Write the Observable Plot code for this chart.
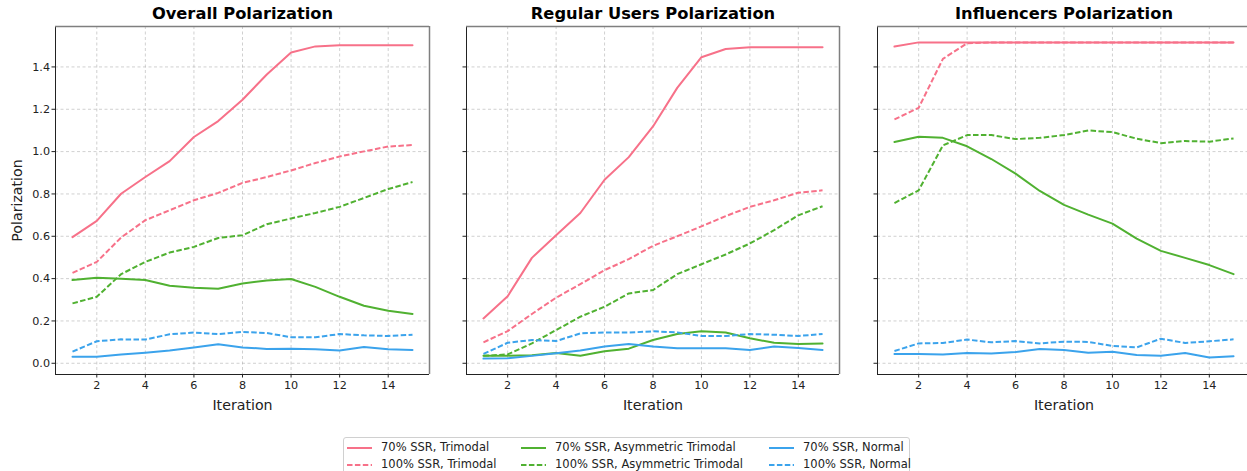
<!DOCTYPE html>
<html><head><meta charset="utf-8">
<script src="https://cdn.jsdelivr.net/npm/d3@7"></script>
<script src="https://cdn.jsdelivr.net/npm/@observablehq/plot@0.6"></script>
<style>
html,body{margin:0;padding:0;background:#fff;overflow:hidden;width:1247px;height:471px;font-family:"DejaVu Sans",sans-serif;}
#wrap{position:relative;width:1247px;height:471px;overflow:hidden;}
.panel{position:absolute;top:0;}
#legend{position:absolute;left:343px;top:437px;width:567px;height:50px;border:1px solid #d0d0d0;border-radius:3px;box-sizing:border-box;background:#fff;}
.lg{position:absolute;font-size:11.5px;color:#222;white-space:nowrap;line-height:1;}
</style>
</head><body><div id="wrap"></div>
<script>
const iterations = [1,2,3,4,5,6,7,8,9,10,11,12,13,14,15];
const panelTitles = ["Overall Polarization","Regular Users Polarization","Influencers Polarization"];
const distributions = ["Trimodal","Asymmetric Trimodal","Normal"];
const ssrLevels = ["70%","100%"];
const colors = ["#f77189","#50b131","#3ba3ec"];
const xTicks = [2,4,6,8,10,12,14];
const yTicks = [0,0.2,0.4,0.6,0.8,1.0,1.2,1.4];

// Overall
const overall_70_trimodal   = [0.596,0.673,0.801,0.880,0.955,1.069,1.144,1.245,1.364,1.468,1.497,1.502,1.502,1.502,1.502];
const overall_100_trimodal  = [0.427,0.479,0.594,0.676,0.723,0.770,0.805,0.852,0.880,0.911,0.946,0.977,1.001,1.024,1.031];
const overall_70_asym       = [0.393,0.404,0.399,0.393,0.366,0.357,0.352,0.377,0.391,0.398,0.361,0.314,0.272,0.248,0.233];
const overall_100_asym      = [0.283,0.314,0.421,0.479,0.523,0.550,0.592,0.605,0.657,0.684,0.710,0.739,0.781,0.823,0.856];
const overall_70_normal     = [0.031,0.031,0.041,0.050,0.060,0.075,0.090,0.075,0.068,0.069,0.066,0.060,0.077,0.066,0.063];
const overall_100_normal    = [0.055,0.104,0.113,0.112,0.137,0.145,0.138,0.148,0.143,0.123,0.123,0.138,0.132,0.129,0.135];
// Regular users
const regular_70_trimodal   = [0.212,0.317,0.498,0.605,0.710,0.867,0.974,1.119,1.301,1.446,1.485,1.493,1.493,1.493,1.493];
const regular_100_trimodal  = [0.099,0.152,0.233,0.310,0.374,0.440,0.492,0.555,0.600,0.647,0.695,0.739,0.770,0.806,0.817];
const regular_70_asym       = [0.036,0.036,0.038,0.049,0.036,0.057,0.069,0.110,0.138,0.151,0.145,0.118,0.097,0.091,0.093];
const regular_100_asym      = [0.035,0.042,0.094,0.157,0.220,0.267,0.330,0.346,0.421,0.468,0.514,0.566,0.629,0.699,0.742];
const regular_70_normal     = [0.022,0.024,0.035,0.047,0.060,0.079,0.091,0.079,0.071,0.071,0.071,0.063,0.079,0.072,0.063];
const regular_100_normal    = [0.044,0.097,0.110,0.105,0.141,0.146,0.145,0.151,0.146,0.129,0.129,0.138,0.135,0.129,0.138];
// Influencers
const influencers_70_trimodal  = [1.496,1.516,1.516,1.516,1.516,1.516,1.516,1.516,1.516,1.516,1.516,1.516,1.516,1.516,1.516];
const influencers_100_trimodal = [1.152,1.207,1.438,1.512,1.516,1.516,1.516,1.516,1.516,1.516,1.516,1.516,1.516,1.516,1.516];
const influencers_70_asym      = [1.045,1.070,1.065,1.025,0.965,0.896,0.814,0.748,0.702,0.660,0.589,0.531,0.498,0.464,0.421];
const influencers_100_asym     = [0.757,0.817,1.029,1.078,1.078,1.059,1.065,1.078,1.100,1.092,1.061,1.040,1.050,1.047,1.062];
const influencers_70_normal    = [0.044,0.044,0.042,0.049,0.046,0.053,0.068,0.063,0.050,0.055,0.039,0.036,0.049,0.027,0.033];
const influencers_100_normal   = [0.058,0.094,0.096,0.112,0.099,0.105,0.094,0.102,0.101,0.082,0.075,0.116,0.096,0.104,0.113];

const panelSeries = [
  [[overall_70_trimodal, overall_70_asym, overall_70_normal],[overall_100_trimodal, overall_100_asym, overall_100_normal]],
  [[regular_70_trimodal, regular_70_asym, regular_70_normal],[regular_100_trimodal, regular_100_asym, regular_100_normal]],
  [[influencers_70_trimodal, influencers_70_asym, influencers_70_normal],[influencers_100_trimodal, influencers_100_asym, influencers_100_normal]]
];

function rows(p){
  const out=[];
  ssrLevels.forEach((s,si)=>distributions.forEach((d,di)=>{
    panelSeries[p][si][di].forEach((v,i)=>out.push({x:iterations[i], v, dist:d, ssr:s}));
  }));
  return out;
}

const layout = [
  {left:0,   width:440, ml:55, mr:11, showY:true},
  {left:440, width:410, ml:26, mr:11, showY:false},
  {left:850, width:410, ml:27, mr:10, showY:false}
];
const XD=[0.3,15.7], YD=[-0.053,1.591];
const wrap=document.getElementById("wrap");
const gridStyle={stroke:"#b0b0b0", strokeOpacity:0.75, strokeDasharray:"3,2.5", strokeWidth:0.8};

layout.forEach((L,p)=>{
  const data=rows(p);
  const marks=[
    Plot.gridX(xTicks, gridStyle),
    Plot.gridY(yTicks, gridStyle),
    Plot.axisX(xTicks,{tickSize:3.5, tickPadding:3, label:null, fontSize:11.2, stroke:"#222"}),
    Plot.axisY(yTicks,{tickSize:3.5, tickPadding:2, label:null, fontSize:11.2, stroke:"#222", tickFormat: L.showY ? (d=>d.toFixed(1)) : (()=>"")}),
    Plot.line(data.filter(d=>d.ssr==="70%"),{x:"x", y:"v", z:"dist", stroke:"dist", strokeWidth:2}),
    Plot.line(data.filter(d=>d.ssr==="100%"),{x:"x", y:"v", z:"dist", stroke:"dist", strokeWidth:2, strokeDasharray:"5.5,2.4", strokeLinecap:"butt"}),
    Plot.ruleX([XD[0]],{stroke:"#222", strokeWidth:1}),
    Plot.ruleY([YD[0]],{stroke:"#222", strokeWidth:1}),
    Plot.ruleX([XD[1]],{stroke:"#7f7f7f", strokeWidth:1.5}),
    Plot.ruleY([YD[1]],{stroke:"#7f7f7f", strokeWidth:1.5}),
    Plot.text([panelTitles[p]],{text:d=>d, frameAnchor:"top", lineAnchor:"middle", textAnchor:"middle", dy:-12.5, fontWeight:"bold", fontSize:16.3, fill:"#000"}),
    Plot.text(["Iteration"],{text:d=>d, frameAnchor:"bottom", lineAnchor:"middle", textAnchor:"middle", dy:31, fontSize:14.2, fill:"#222"})
  ];
  if(L.showY) marks.push(Plot.text(["Polarization"],{text:d=>d, frameAnchor:"left", lineAnchor:"middle", textAnchor:"middle", dx:-38, rotate:-90, fontSize:14.2, fill:"#222"}));
  const chart=Plot.plot({
    width:L.width, height:420, marginLeft:L.ml, marginRight:L.mr, marginTop:26, marginBottom:46,
    style:{fontFamily:"DejaVu Sans", fontSize:"11.2px", color:"#222", background:"transparent", overflow:"visible"},
    x:{domain:XD}, y:{domain:YD},
    color:{domain:distributions, range:colors},
    marks
  });
  chart.classList.add("panel");
  chart.style.left=L.left+"px";
  wrap.appendChild(chart);
});

// Legend
const legend=document.createElement("div");
legend.id="legend";
wrap.appendChild(legend);
const colLeft=[3,177,425], rowTop=[10,27];
distributions.forEach((d,di)=>ssrLevels.forEach((s,si)=>{
  const x=colLeft[di], y=rowTop[si];
  const ns="http://www.w3.org/2000/svg";
  const svg=document.createElementNS(ns,"svg");
  svg.setAttribute("width",26); svg.setAttribute("height",4);
  svg.style.position="absolute"; svg.style.left=x+"px"; svg.style.top=(y-2)+"px";
  const ln=document.createElementNS(ns,"line");
  ln.setAttribute("x1",0); ln.setAttribute("x2",25); ln.setAttribute("y1",2); ln.setAttribute("y2",2);
  ln.setAttribute("stroke",colors[di]); ln.setAttribute("stroke-width",2);
  if(si===1) ln.setAttribute("stroke-dasharray","5.5,2.4");
  svg.appendChild(ln); legend.appendChild(svg);
  const t=document.createElement("div");
  t.className="lg"; t.textContent=`${s} SSR, ${d}`;
  t.style.left=(x+34)+"px"; t.style.top=(y-6)+"px";
  legend.appendChild(t);
}));
</script>
</body></html>
